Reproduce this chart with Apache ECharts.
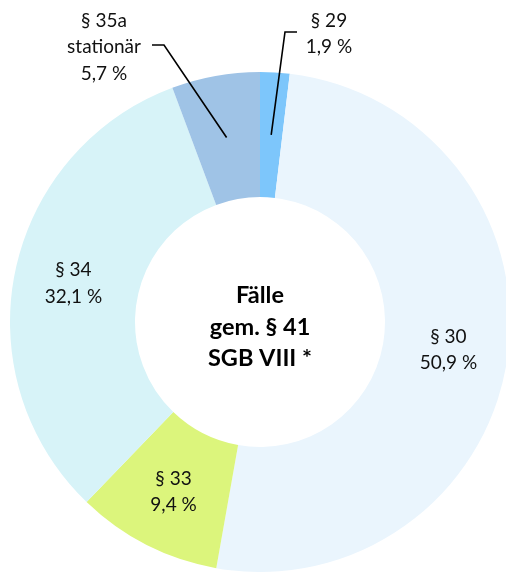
<!DOCTYPE html>
<html>
<head>
<meta charset="utf-8">
<script src="https://cdn.jsdelivr.net/npm/echarts@6/dist/echarts.min.js"></script>
<style>
  html, body { margin: 0; padding: 0; background: #fff; }
  #chart { width: 506px; height: 572px; }
</style>
</head>
<body>
<div id="chart"></div>
<script>
// Anteile der Hilfearten (Fälle gem. § 41 SGB VIII), im Uhrzeigersinn ab 12 Uhr
const categories = ['§ 29', '§ 30', '§ 33', '§ 34', '§ 35a\nstationär'];
const shares = [1.9, 50.9, 9.4, 32.1, 5.7];
const colors = ['#7DC6FB', '#EAF5FD', '#DCF57C', '#D7F3F8', '#9FC3E6'];
const centerLines = ['Fälle', 'gem. § 41', 'SGB VIII *'];

const CX = 260, CY = 322, R_IN = 125, R_OUT = 250;
const FONT = 'Lato, "Open Sans", sans-serif';

// small slices get outside labels with a bent leader line
const outsideLabels = {
  0: { x: 329, y: 34, elbow: [285, 32], end: [297, 32] },
  4: { x: 104, y: 47, elbow: [164, 45], end: [152, 45] }
};

function fmt(v) { return v.toFixed(1).replace('.', ',') + ' %'; }

const total = shares.reduce((a, b) => a + b, 0);
function midAngle(i) {
  let before = 0;
  for (let k = 0; k < i; k++) before += shares[k];
  return ((before + shares[i] / 2) / total) * 2 * Math.PI;
}

const data = categories.map((name, i) => {
  const item = { name: name, value: shares[i], itemStyle: { color: colors[i] } };
  if (outsideLabels[i]) item.label = { position: 'outside' };
  return item;
});

// leader lines start in the middle of the ring at the slice's mid angle
const leaderLines = Object.keys(outsideLabels).map(k => {
  const i = +k, o = outsideLabels[i];
  const a = midAngle(i), rMid = (R_IN + R_OUT) / 2;
  return {
    type: 'polyline',
    silent: true,
    z: 10,
    shape: { points: [[CX + rMid * Math.sin(a), CY - rMid * Math.cos(a)], o.elbow, o.end] },
    style: { stroke: '#000', lineWidth: 1.6, fill: null }
  };
});

const chart = echarts.init(document.getElementById('chart'), null, { renderer: 'canvas' });
chart.setOption({
  backgroundColor: '#fff',
  animation: false,
  series: [{
    type: 'pie',
    center: [CX, CY],
    radius: [R_IN, R_OUT],
    startAngle: 90,
    clockwise: true,
    silent: true,
    avoidLabelOverlap: false,
    data: data,
    label: {
      show: true,
      position: 'inside',
      formatter: p => p.name + '\n' + fmt(p.value),
      color: '#111',
      fontFamily: FONT,
      fontSize: 19,
      lineHeight: 26.5,
      align: 'center'
    },
    labelLine: { show: false },
    labelLayout: function (params) {
      const o = outsideLabels[params.dataIndex];
      if (!o) return {};
      return { x: o.x, y: o.y, align: 'center', verticalAlign: 'middle' };
    }
  }],
  graphic: leaderLines.concat([{
    type: 'text',
    x: CX,
    y: CY + 5,
    z: 10,
    style: {
      text: centerLines.join('\n'),
      align: 'center',
      verticalAlign: 'middle',
      fill: '#000',
      font: 'bold 23.5px ' + FONT,
      lineHeight: 31.5
    }
  }])
});
</script>
</body>
</html>
